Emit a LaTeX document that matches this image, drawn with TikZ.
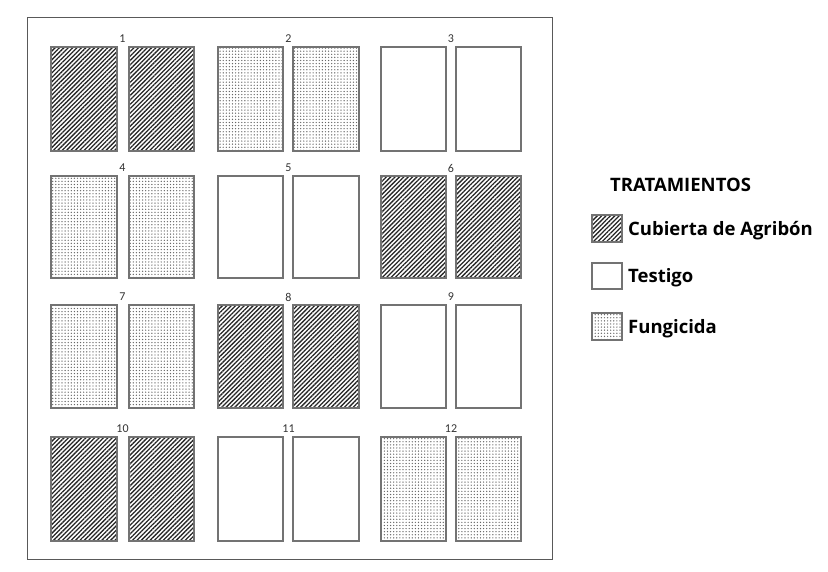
\documentclass[tikz,border=0pt]{standalone}
\usepackage{fontspec}
\setmainfont{Open Sans}
\newfontfamily\numfont{Carlito}
\usetikzlibrary{patterns.meta}
\definecolor{framecol}{gray}{0.35}
\definecolor{plotcol}{gray}{0.45}
\tikzset{
  plot/.style={draw=plotcol, line width=1.1pt},
  hatchfill/.style={pattern={Lines[angle=45,distance=3.1pt,line width=1.3pt]}, pattern color=black!85},
  dotfill/.style={pattern={Dots[radius=0.7pt,distance=3.1pt,angle=0]}, pattern color=black!60},
  plotnum/.style={font=\numfont\fontsize{12}{13}\selectfont, text=black!80},
  legtext/.style={font=\bfseries\fontsize{18.5}{21}\selectfont, anchor=west, inner sep=0pt}
}
\begin{document}
\begin{tikzpicture}[x=1pt,y=-1pt]
\useasboundingbox (0,0) rectangle (828,572);
\draw[framecol, line width=1pt] (27,18) rectangle (552,559);
\foreach \num/\col/\row/\kind in {1/1/1/hatchfill,2/2/1/dotfill,3/3/1/plot,
  4/1/2/dotfill,5/2/2/plot,6/3/2/hatchfill,
  7/1/3/dotfill,8/2/3/hatchfill,9/3/3/plot,
  10/1/4/hatchfill,11/2/4/plot,12/3/4/dotfill}{
  \pgfmathsetmacro{\xa}{{51,218,381}[\col-1]}
  \pgfmathsetmacro{\xb}{{117,283,446}[\col-1]}
  \pgfmathsetmacro{\xc}{{129,293,456}[\col-1]}
  \pgfmathsetmacro{\xd}{{194,359,521}[\col-1]}
  \pgfmathsetmacro{\ya}{{47,176,305,437}[\row-1]}
  \pgfmathsetmacro{\yb}{{151,278,408,541}[\row-1]}
  \path[plot,\kind] (\xa,\ya) rectangle (\xb,\yb);
  \path[plot,\kind] (\xc,\ya) rectangle (\xd,\yb);
  \node[plotnum] (n\num) at ({(\xa+\xd)/2},{\ya-8}) {\num};
}
% legend
\node[legtext] (title) at (610,185) {TRATAMIENTOS};
\path[plot,hatchfill] (592,215) rectangle (622,242);
\node[legtext] (l1) at (628,231) {Cubierta de Agribón};
\path[plot] (592,263) rectangle (622,289);
\node[legtext] (l2) at (628,278) {Testigo};
\path[plot,dotfill] (592,313) rectangle (622,340);
\node[legtext] (l3) at (628,329) {Fungicida};
\end{tikzpicture}
\end{document}
